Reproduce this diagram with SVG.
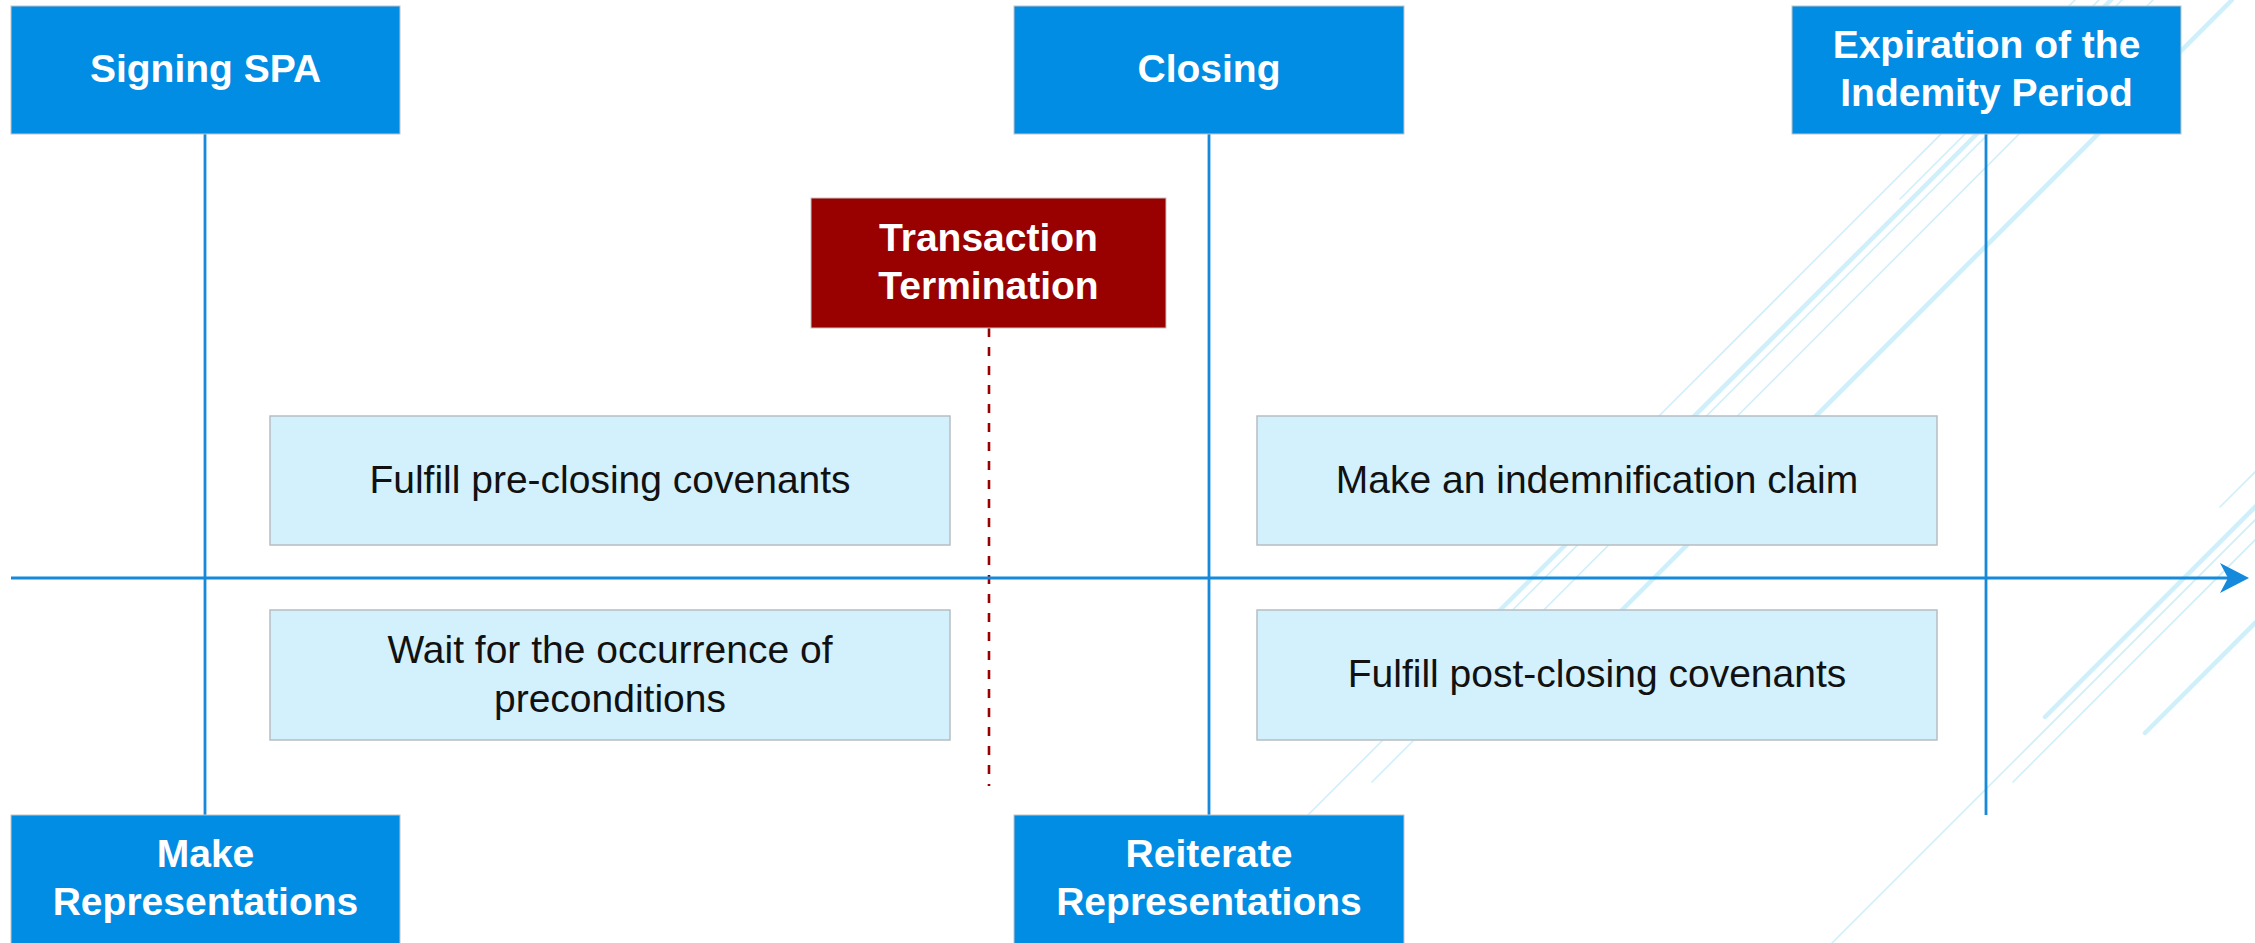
<svg xmlns="http://www.w3.org/2000/svg" width="2255" height="943" viewBox="0 0 2255 943">
<style>
.bg{fill:#ffffff}
.deco{stroke:#cfeffb;fill:none;stroke-linecap:round}
.thin{stroke-width:1.6}
.thick{stroke-width:4.5}
.axis{stroke:#1589db;stroke-width:3;fill:none}
.vline{stroke:#1589db;stroke-width:2.8;fill:none}
.dash{stroke:#990000;stroke-width:2.6;stroke-dasharray:9 10;fill:none}
.blue rect{fill:#008de3;stroke:#c4c4c4;stroke-width:1}
.red rect{fill:#990000;stroke:#c4c4c4;stroke-width:1}
.light rect{fill:#d3f1fc;stroke:#b7bdc2;stroke-width:1.5}
.hd{font-family:"Liberation Sans",Arial,sans-serif;font-weight:bold;font-size:39px;fill:#ffffff;text-anchor:middle}
.bd{font-family:"Liberation Sans",Arial,sans-serif;font-size:39px;fill:#111111;text-anchor:middle}
</style>
<defs>
<marker id="arrow" markerUnits="userSpaceOnUse" markerWidth="32" markerHeight="32" refX="8" refY="15" orient="auto">
<path d="M0,0 L29,15 L0,30 L8,15 Z" fill="#1589db"/>
</marker>
</defs>
<rect class="bg" x="0" y="0" width="2255" height="943"/>
<g id="decoration">
<line class="deco thin" x1="1600" y1="475" x2="2075" y2="0"/>
<line class="deco thick" x1="1440" y1="670" x2="2111" y2="0"/>
<line class="deco thin" x1="1302" y1="821" x2="2122" y2="0"/>
<line class="deco thin" x1="1372" y1="782" x2="2153" y2="0"/>
<line class="deco thick" x1="1570" y1="662" x2="2232" y2="0"/>
<line class="deco thin" x1="1900" y1="199" x2="2099" y2="0"/>
<line class="deco thin" x1="2220" y1="507" x2="2260" y2="467"/>
<line class="deco thick" x1="2045" y1="717" x2="2260" y2="502"/>
<line class="deco thin" x1="1832" y1="943" x2="2260" y2="515"/>
<line class="deco thin" x1="2013" y1="782" x2="2260" y2="535"/>
<line class="deco thick" x1="2145" y1="733" x2="2260" y2="618"/>
</g>
<g id="connectors">
<line class="vline" x1="205" y1="134" x2="205" y2="815"/>
<line class="vline" x1="1209" y1="134" x2="1209" y2="815"/>
<line class="vline" x1="1986" y1="134" x2="1986" y2="815"/>
<line class="dash" x1="989" y1="328" x2="989" y2="786"/>
<line class="axis" x1="11" y1="578" x2="2228" y2="578" marker-end="url(#arrow)"/>
</g>
<g id="signing-spa" class="blue">
<rect x="11" y="6" width="389" height="128"/>
<text class="hd" x="205.5" y="82">Signing SPA</text>
</g>
<g id="closing" class="blue">
<rect x="1014" y="6" width="390" height="128"/>
<text class="hd" x="1209" y="82">Closing</text>
</g>
<g id="expiration" class="blue">
<rect x="1792" y="6" width="389" height="128"/>
<text class="hd" x="1986.5" y="58">Expiration of the</text>
<text class="hd" x="1986.5" y="106">Indemity Period</text>
</g>
<g id="transaction-termination" class="red">
<rect x="811" y="198" width="355" height="130"/>
<text class="hd" x="988.5" y="251">Transaction</text>
<text class="hd" x="988.5" y="299">Termination</text>
</g>
<g id="pre-closing" class="light">
<rect x="270" y="416" width="680" height="129"/>
<text class="bd" x="610" y="493">Fulfill pre-closing covenants</text>
</g>
<g id="preconditions" class="light">
<rect x="270" y="610" width="680" height="130"/>
<text class="bd" x="610" y="663">Wait for the occurrence of</text>
<text class="bd" x="610" y="712">preconditions</text>
</g>
<g id="indemnification-claim" class="light">
<rect x="1257" y="416" width="680" height="129"/>
<text class="bd" x="1597" y="493">Make an indemnification claim</text>
</g>
<g id="post-closing" class="light">
<rect x="1257" y="610" width="680" height="130"/>
<text class="bd" x="1597" y="687">Fulfill post-closing covenants</text>
</g>
<g id="make-representations" class="blue">
<rect x="11" y="815" width="389" height="135"/>
<text class="hd" x="205.5" y="867">Make</text>
<text class="hd" x="205.5" y="915">Representations</text>
</g>
<g id="reiterate-representations" class="blue">
<rect x="1014" y="815" width="390" height="135"/>
<text class="hd" x="1209" y="867">Reiterate</text>
<text class="hd" x="1209" y="915">Representations</text>
</g>
</svg>
